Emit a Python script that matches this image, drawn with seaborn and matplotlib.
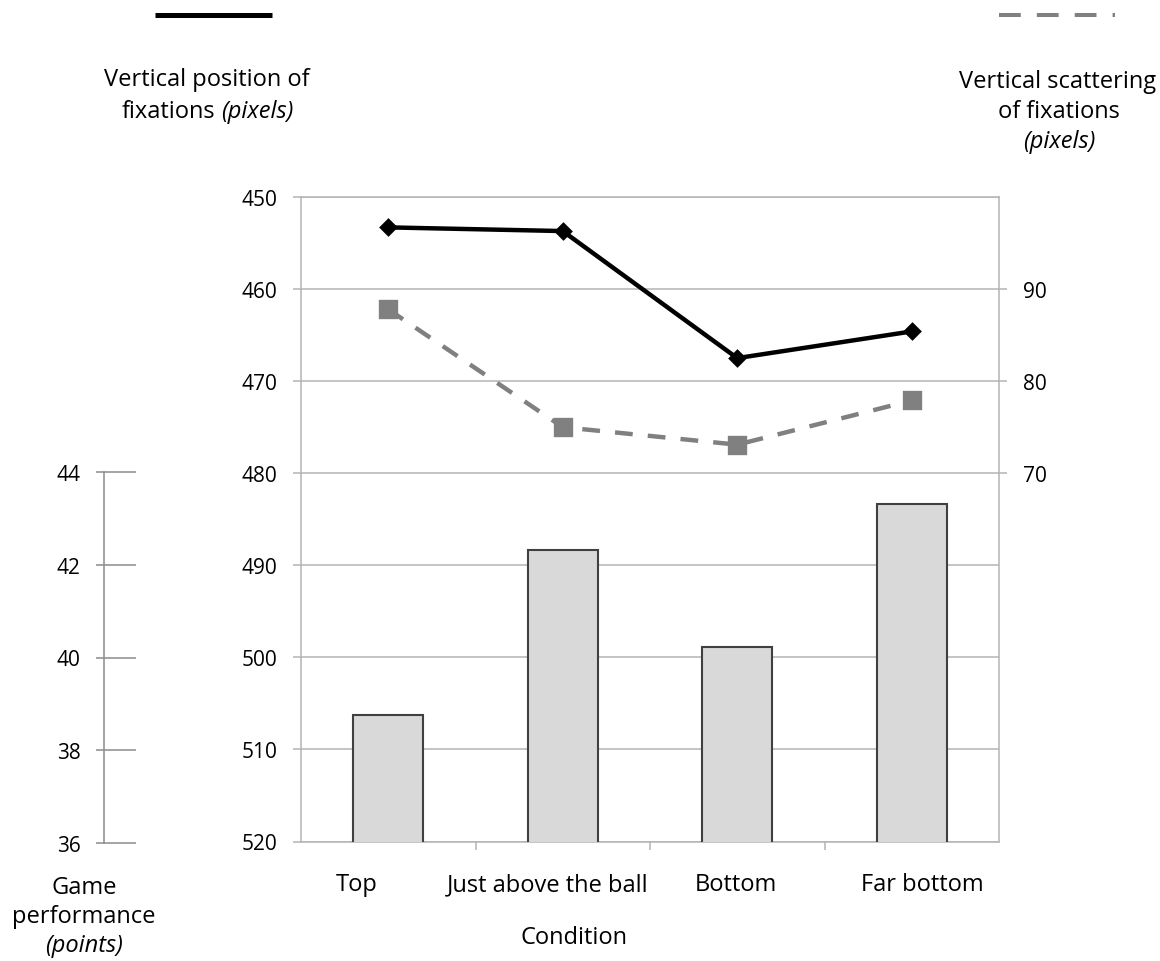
import numpy as np
import pandas as pd
import seaborn as sns
import matplotlib.pyplot as plt
from matplotlib.lines import Line2D

# Values
conditions = ['Top', 'Just above the ball', 'Bottom', 'Far bottom']
fix_position = [453.3, 453.7, 467.5, 464.6]   # left axis, inverted (pixels)
fix_scatter = [87.8, 75.0, 73.1, 77.9]        # right axis (pixels)
game_points = [38.72, 42.29, 40.19, 43.28]    # far-left axis (points)

position_ticks = [450, 460, 470, 480, 490, 500, 510, 520]
scatter_ticks = [70, 80, 90]
points_ticks = [36, 38, 40, 42, 44]

df = pd.DataFrame({'condition': conditions, 'position': fix_position,
                   'scatter': fix_scatter, 'points': game_points})

sns.set_style('white')
plt.rcParams['font.family'] = ['Open Sans', 'DejaVu Sans']
plt.rcParams['font.size'] = 17
plt.rcParams['text.color'] = 'black'
plt.rcParams['xtick.color'] = 'black'
plt.rcParams['ytick.color'] = 'black'

W, H = 1160, 962
def fx(px):
    return px / W
def fy(py):
    return 1 - py / H

grid_col = '#b4b4b4'
axis_col = '#8c8c8c'
tick_fs = 15

fig = plt.figure(figsize=(11.6, 9.62), dpi=100)

# main plot box (pixel layout of the reference)
left, right, top, bottom = 301, 999, 198, 842.5
ax = fig.add_axes([fx(left), fy(bottom), fx(right) - fx(left), fy(top) - fy(bottom)])
ax_bar = ax.twinx()
ax_sc = ax.twinx()

# black line - vertical position of fixations
sns.pointplot(data=df, x='condition', y='position', ax=ax, color='black',
              markers='D', markersize=7.5, linewidth=3.2, errorbar=None)

# bars - game performance
sns.barplot(data=df, x='condition', y='points', ax=ax_bar, color='#d9d9d9',
            saturation=1, edgecolor='#404040', linewidth=1.5, width=0.4)

# grey dashed line - vertical scattering
sns.pointplot(data=df, x='condition', y='scatter', ax=ax_sc, color='#808080',
              markers='s', markersize=12, linestyles='--', linewidth=3.2, errorbar=None)
for ln in ax_sc.lines:
    ln.set_dashes([4.0, 3.4])

for a in (ax, ax_bar, ax_sc):
    a.set_xlim(-0.5, 3.5)
    a.set_xlabel('')
    a.set_ylabel('')

# left (inverted) axis
ax.set_ylim(520, 450)
ax.set_yticks(position_ticks)
ax.grid(axis='y', color=grid_col, lw=1.1)
ax.grid(axis='x', visible=False)
ax.set_axisbelow(True)
ax.tick_params(axis='y', left=True, direction='out', length=6, width=1.1,
               color=grid_col, labelcolor='black', pad=11, labelsize=tick_fs)
# category labels sit a little off-centre in the original
label_shift = [-0.18, -0.086, -0.01, 0.06]
ax.set_xticks([i + s for i, s in enumerate(label_shift)])
ax.set_xticklabels(conditions)
ax.set_xticks([0.5, 1.5, 2.5], minor=True)
ax.tick_params(axis='x', which='major', length=0, pad=22, labelsize=17,
               labelcolor='black')
ax.tick_params(axis='x', which='minor', bottom=True, direction='out', length=6,
               width=1.1, color=grid_col)
for s in ['left', 'top', 'bottom']:
    ax.spines[s].set_color(grid_col)
    ax.spines[s].set_linewidth(1.1)
ax.spines['right'].set_visible(False)

# bar axis: 36 at the bottom of the box, 44 at y=473 px
g_top, g_bot = 473, 844
ax_bar.set_ylim(36, 36 + 8 * (bottom - top) / (g_bot - g_top))
ax_bar.set_yticks([])
for s in ax_bar.spines.values():
    s.set_visible(False)

# right axis
ax_sc.set_ylim(30, 100)
ax_sc.set_yticks(scatter_ticks)
ax_sc.tick_params(axis='y', right=True, direction='out', length=6, width=1.1,
                  color=grid_col, labelcolor='black', pad=11, labelsize=tick_fs)
for s in ['left', 'top', 'bottom']:
    ax_sc.spines[s].set_visible(False)
ax_sc.spines['right'].set_color(grid_col)
ax_sc.spines['right'].set_linewidth(1.1)

# separate game performance axis on the far left
ax_g = fig.add_axes([fx(104), fy(g_bot), 0.01, fy(g_top) - fy(g_bot)])
ax_g.patch.set_visible(False)
ax_g.set_ylim(36, 44)
ax_g.set_yticks(points_ticks)
ax_g.yaxis.remove_overlapping_locs = False
ax_g.set_yticks(points_ticks, minor=True)
ax_g.set_xticks([])
ax_g.tick_params(axis='y', which='major', left=True, direction='in', length=23,
                 width=1.1, color=axis_col, labelcolor='black', pad=17,
                 labelsize=tick_fs)
ax_g.tick_params(axis='y', which='minor', left=True, direction='out', length=6,
                 width=1.1, color=axis_col)
for s in ['right', 'top', 'bottom']:
    ax_g.spines[s].set_visible(False)
ax_g.spines['left'].set_color(axis_col)
ax_g.spines['left'].set_linewidth(1.1)

# axis titles
fig.text(fx(207), fy(80), 'Vertical position of', ha='center', va='center')
fig.text(fx(215), fy(112), 'fixations', ha='right', va='center')
fig.text(fx(221), fy(112), '(pixels)', ha='left', va='center', style='italic')

fig.text(fx(1058), fy(82), 'Vertical scattering', ha='center', va='center')
fig.text(fx(1059), fy(112), 'of fixations', ha='center', va='center')
fig.text(fx(1059), fy(142), '(pixels)', ha='center', va='center', style='italic')

fig.text(fx(84), fy(888), 'Game', ha='center', va='center')
fig.text(fx(84), fy(917), 'performance', ha='center', va='center')
fig.text(fx(84), fy(946), '(points)', ha='center', va='center', style='italic')

fig.text(fx(574), fy(938), 'Condition', ha='center', va='center')

# legend line samples at the top
fig.add_artist(Line2D([fx(155), fx(272)], [fy(16), fy(16)], color='black',
                      lw=3.6, solid_capstyle='butt', transform=fig.transFigure))
fig.add_artist(Line2D([fx(999), fx(1115)], [fy(16), fy(16)], color='#808080',
                      lw=2.9, dashes=[5.4, 4.0], dash_capstyle='butt',
                      transform=fig.transFigure))

fig.savefig('out.png', dpi=100)
